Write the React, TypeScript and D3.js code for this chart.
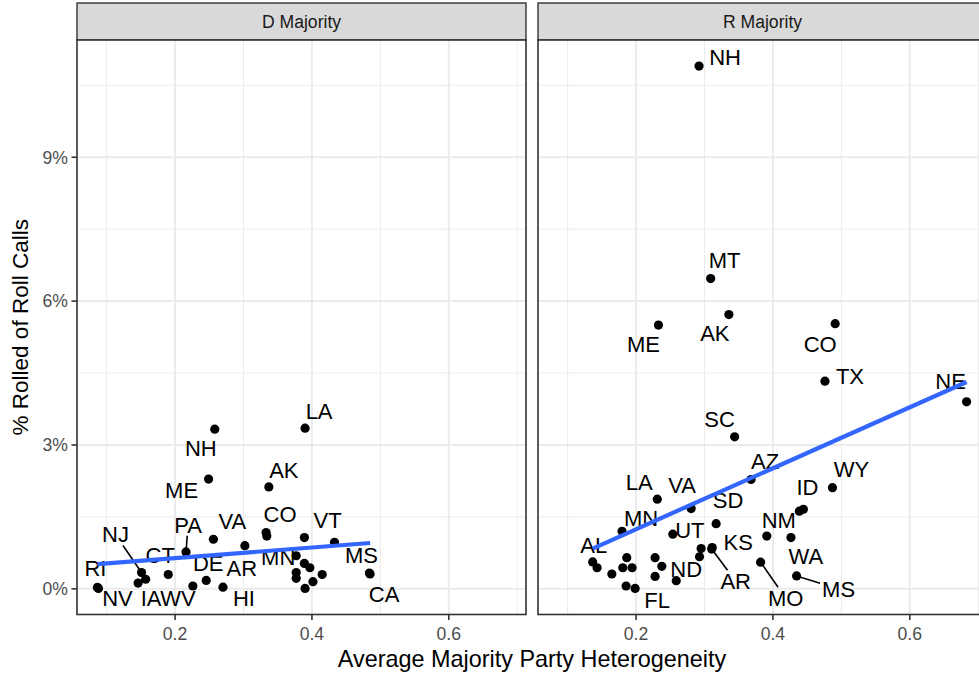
import React from "react";
import * as d3 from "d3";

// ---- data -------------------------------------------------------------
// Democratic-majority chambers: heterogeneity vs. share of roll calls rolled (%)
const dStates = ["RI", "NV", "NJ", "IA", "", "CT", "PA", "WV", "DE", "HI", "VA", "AR", "ME", "NH", "AK", "CO", "", "", "VT", "MN", "", "", "", "", "", "", "", "LA", "MS", "CA"];
const dHetero = [0.0865, 0.088, 0.151, 0.146, 0.157, 0.19, 0.216, 0.226, 0.2455, 0.27, 0.256, 0.302, 0.249, 0.258, 0.337, 0.333, 0.334, 0.389, 0.433, 0.377, 0.377, 0.377, 0.389, 0.397, 0.415, 0.4015, 0.39, 0.39, 0.484, 0.485];
const dRolled = [0.03, 0.01, 0.34, 0.12, 0.2, 0.3, 0.77, 0.06, 0.175, 0.035, 1.035, 0.9, 2.29, 3.33, 2.125, 1.175, 1.1, 1.07, 0.97, 0.69, 0.34, 0.22, 0.53, 0.44, 0.3, 0.15, 0.01, 3.35, 0.33, 0.31];

// Republican-majority chambers
const rStates = ["NH", "MT", "AK", "ME", "CO", "TX", "SC", "NE", "WY", "AZ", "ID", "", "LA", "VA", "SD", "MN", "UT", "NM", "WA", "MO", "MS", "AL", "", "", "", "", "", "", "FL", "", "", "", "ND", "", "", "KS", "AR"];
const rHetero = [0.292, 0.309, 0.3356, 0.2327, 0.491, 0.476, 0.344, 0.683, 0.487, 0.368, 0.4445, 0.4386, 0.231, 0.2805, 0.317, 0.1795, 0.2537, 0.391, 0.4263, 0.382, 0.4346, 0.1366, 0.143, 0.1646, 0.1864, 0.1806, 0.1942, 0.1854, 0.1986, 0.2278, 0.2376, 0.2278, 0.2587, 0.2951, 0.2927, 0.3112, 0.3105];
const rRolled = [10.9, 6.47, 5.72, 5.5, 5.53, 4.33, 3.17, 3.9, 2.11, 2.28, 1.66, 1.62, 1.87, 1.675, 1.36, 1.2, 1.14, 1.1, 1.07, 0.556, 0.27, 0.5625, 0.44, 0.31, 0.65, 0.44, 0.44, 0.06, 0.01, 0.65, 0.47, 0.26, 0.17, 0.84, 0.67, 0.86, 0.83];

const facetTitles = ["D Majority", "R Majority"];
const xTicks = [0.2, 0.4, 0.6];
const xMinor = [0.1, 0.3, 0.5, 0.7];
const yTicks = [0, 3, 6, 9];
const yMinor = [1.5, 4.5, 7.5, 10.5];

// ---- repelled label placement (pixel nudges from each point) ----------
type Nudge = { dx: number; dy: number; seg?: boolean };
const dNudge: Record<string, Nudge> = {
  RI: { dx: -2, dy: -19 }, NV: { dx: 19, dy: 10 }, NJ: { dx: -26, dy: -38, seg: true },
  IA: { dx: 13, dy: 15 }, CT: { dx: -8, dy: -19 }, PA: { dx: 2, dy: -27, seg: true },
  WV: { dx: -15, dy: 12 }, DE: { dx: 2, dy: -17 }, HI: { dx: 21, dy: 11 },
  VA: { dx: 19, dy: -18 }, AR: { dx: -3, dy: 22 }, ME: { dx: -27, dy: 11 },
  NH: { dx: -14, dy: 19 }, AK: { dx: 15, dy: -17 }, CO: { dx: 14, dy: -18 },
  MN: { dx: -18, dy: 1 }, LA: { dx: 14, dy: -17 }, VT: { dx: -7, dy: -22 },
  MS: { dx: -8, dy: -18 }, CA: { dx: 14, dy: 20 },
};
const rNudge: Record<string, Nudge> = {
  NH: { dx: 26, dy: -9 }, MT: { dx: 14, dy: -18 }, AK: { dx: -14, dy: 19 },
  ME: { dx: -15, dy: 19 }, CO: { dx: -15, dy: 20 }, TX: { dx: 25, dy: -5 },
  SC: { dx: -15, dy: -18 }, NE: { dx: -16, dy: -21 }, WY: { dx: 19, dy: -19 },
  AZ: { dx: 14, dy: -18 }, ID: { dx: 4, dy: -22 }, LA: { dx: -18, dy: -17 },
  VA: { dx: -9, dy: -23 }, SD: { dx: 12, dy: -24 }, MN: { dx: 19, dy: -13 },
  UT: { dx: 17, dy: -4 }, NM: { dx: 12, dy: -16 }, WA: { dx: 15, dy: 19 },
  MO: { dx: 25, dy: 36, seg: true }, MS: { dx: 42, dy: 13, seg: true },
  AL: { dx: 1, dy: -17 }, FL: { dx: 22, dy: 12 }, ND: { dx: 10, dy: -12 },
  KS: { dx: 26, dy: -5 }, AR: { dx: 24, dy: 32, seg: true },
};

// ---- layout ------------------------------------------------------------
const W = 979;
const H = 675;
const FONT = "'Liberation Sans', Arial, Helvetica, sans-serif";
const PANEL_X = [77, 538];
const PANEL_W = 449;
const STRIP_TOP = 3;
const PANEL_TOP = 40;
const PANEL_BOTTOM = 614.5;
const LABEL_SIZE = 22;

const capW: Record<string, number> = {
  A: 0.667, B: 0.667, C: 0.722, D: 0.722, E: 0.667, F: 0.611, H: 0.722, I: 0.278,
  J: 0.5, K: 0.667, L: 0.556, M: 0.833, N: 0.722, O: 0.778, P: 0.667, R: 0.722,
  S: 0.667, T: 0.611, U: 0.722, V: 0.667, W: 0.944, X: 0.667, Y: 0.667, Z: 0.611,
};
const textWidth = (s: string, size: number) =>
  s.split("").reduce((a, c) => a + (capW[c] ?? 0.6), 0) * size;

function linearFit(xs: number[], ys: number[]) {
  const mx = d3.mean(xs)!;
  const my = d3.mean(ys)!;
  let sxy = 0;
  let sxx = 0;
  xs.forEach((v, i) => {
    sxy += (v - mx) * (ys[i] - my);
    sxx += (v - mx) * (v - mx);
  });
  const b = sxy / sxx;
  return { a: my - b * mx, b };
}

export default function App() {
  const allX = [...dHetero, ...rHetero];
  const allY = [...dRolled, ...rRolled];
  const [x0, x1] = d3.extent(allX) as [number, number];
  const [y0, y1] = d3.extent(allY) as [number, number];
  const ex = (x1 - x0) * 0.05;
  const ey = (y1 - y0) * 0.05;
  const x = d3.scaleLinear().domain([x0 - ex, x1 + ex]).range([0, PANEL_W]);
  const ph = PANEL_BOTTOM - PANEL_TOP;
  const y = d3.scaleLinear().domain([y0 - ey, y1 + ey]).range([ph, 0]);

  const panels = [
    { title: facetTitles[0], states: dStates, hx: dHetero, ry: dRolled, nudge: dNudge },
    { title: facetTitles[1], states: rStates, hx: rHetero, ry: rRolled, nudge: rNudge },
  ];

  const line = d3
    .line<[number, number]>()
    .x((d) => x(d[0]))
    .y((d) => y(d[1]));

  return (
    <svg
      width={W}
      height={H}
      style={{ position: "absolute", left: 0, top: 0, background: "#fff" }}
      fontFamily={FONT}
    >
      <rect width={W} height={H} fill="#fff" />
      {panels.map((p, pi) => {
        const fit = linearFit(p.hx, p.ry);
        const [fx0, fx1] = d3.extent(p.hx) as [number, number];
        const fitPts: [number, number][] = [
          [fx0, fit.a + fit.b * fx0],
          [fx1, fit.a + fit.b * fx1],
        ];
        return (
          <g key={pi} transform={`translate(${PANEL_X[pi]},0)`}>
            {/* strip */}
            <rect
              x={0}
              y={STRIP_TOP}
              width={PANEL_W}
              height={PANEL_TOP - STRIP_TOP}
              fill="#D9D9D9"
              stroke="#333333"
              strokeWidth={1.4}
            />
            <text
              x={PANEL_W / 2}
              y={(STRIP_TOP + PANEL_TOP) / 2 + 6.3}
              textAnchor="middle"
              fontSize={17.6}
              fill="#1A1A1A"
            >
              {p.title}
            </text>
            <g transform={`translate(0,${PANEL_TOP})`}>
              <rect width={PANEL_W} height={ph} fill="#fff" />
              {xMinor.map((t) => (
                <line key={"xm" + t} x1={x(t)} x2={x(t)} y1={0} y2={ph} stroke="#EBEBEB" strokeWidth={1} />
              ))}
              {yMinor.map((t) => (
                <line key={"ym" + t} x1={0} x2={PANEL_W} y1={y(t)} y2={y(t)} stroke="#EBEBEB" strokeWidth={1} />
              ))}
              {xTicks.map((t) => (
                <line key={"xM" + t} x1={x(t)} x2={x(t)} y1={0} y2={ph} stroke="#EBEBEB" strokeWidth={2} />
              ))}
              {yTicks.map((t) => (
                <line key={"yM" + t} x1={0} x2={PANEL_W} y1={y(t)} y2={y(t)} stroke="#EBEBEB" strokeWidth={2} />
              ))}
              {/* points */}
              {p.hx.map((v, i) => (
                <circle key={"pt" + i} cx={x(v)} cy={y(p.ry[i])} r={4.6} fill="#000" />
              ))}
              {/* labels with leader segments */}
              {p.states.map((s, i) => {
                if (!s) return null;
                const n = p.nudge[s];
                if (!n) return null;
                const px = x(p.hx[i]);
                const py = y(p.ry[i]);
                const cx = px + n.dx;
                const cy = py + n.dy;
                let seg = null;
                if (n.seg) {
                  const hw = textWidth(s, LABEL_SIZE) / 2 + 2;
                  const hh = (0.716 * LABEL_SIZE) / 2 + 3;
                  const vx = px - cx;
                  const vy = py - cy;
                  const t = Math.min(
                    vx !== 0 ? hw / Math.abs(vx) : Infinity,
                    vy !== 0 ? hh / Math.abs(vy) : Infinity
                  );
                  seg = (
                    <line
                      x1={px}
                      y1={py}
                      x2={cx + vx * t}
                      y2={cy + vy * t}
                      stroke="#000"
                      strokeWidth={1.6}
                    />
                  );
                }
                return (
                  <g key={"lb" + i}>
                    {seg}
                    <text
                      x={cx}
                      y={cy + (0.716 * LABEL_SIZE) / 2}
                      textAnchor="middle"
                      fontSize={LABEL_SIZE}
                      fill="#000"
                    >
                      {s}
                    </text>
                  </g>
                );
              })}
              {/* least-squares fit */}
              <path d={line(fitPts) ?? ""} fill="none" stroke="#3366FF" strokeWidth={4.2} />
              <rect width={PANEL_W} height={ph} fill="none" stroke="#333333" strokeWidth={1.6} />
              {/* x axis */}
              {xTicks.map((t) => (
                <g key={"xt" + t}>
                  <line x1={x(t)} x2={x(t)} y1={ph} y2={ph + 5.5} stroke="#333333" strokeWidth={1.6} />
                  <text x={x(t)} y={ph + 25.5} textAnchor="middle" fontSize={17.6} fill="#4D4D4D">
                    {d3.format(".1f")(t)}
                  </text>
                </g>
              ))}
              {/* y axis only on the first panel */}
              {pi === 0 &&
                yTicks.map((t) => (
                  <g key={"yt" + t}>
                    <line x1={-5.5} x2={0} y1={y(t)} y2={y(t)} stroke="#333333" strokeWidth={1.6} />
                    <text x={-9} y={y(t) + 6.3} textAnchor="end" fontSize={17.6} fill="#4D4D4D">
                      {`${t}%`}
                    </text>
                  </g>
                ))}
            </g>
          </g>
        );
      })}
      <text
        x={(PANEL_X[0] + PANEL_X[1] + PANEL_W) / 2}
        y={667}
        textAnchor="middle"
        fontSize={23.4}
        fill="#000"
      >
        Average Majority Party Heterogeneity
      </text>
      <text
        transform={`translate(27.5,${(PANEL_TOP + PANEL_BOTTOM) / 2}) rotate(-90)`}
        textAnchor="middle"
        fontSize={22.5}
        fill="#000"
      >
        % Rolled of Roll Calls
      </text>
    </svg>
  );
}
